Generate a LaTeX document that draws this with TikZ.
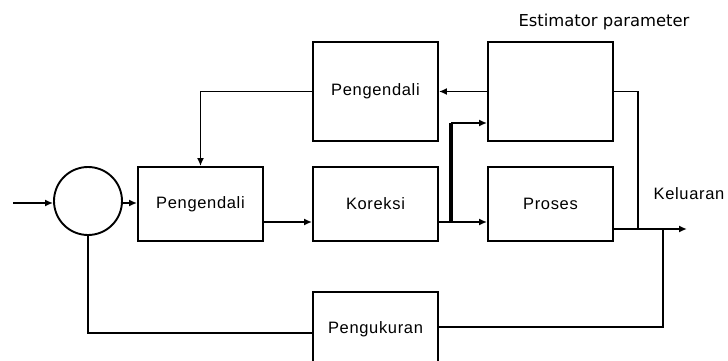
\documentclass[tikz,border=0pt]{standalone}
\usepackage{fontspec}
\setmainfont{Liberation Sans}
\newfontfamily\blokfont[LetterSpace=4]{Liberation Sans}
\newfontfamily\judulfont{DejaVu Sans}
\usetikzlibrary{arrows.meta,positioning}

\begin{document}
\begin{tikzpicture}[line join=miter,>={Latex[length=8pt,width=7pt]},x=1pt,y=-1pt,line width=1.6pt]
\tikzset{blok/.style={draw,line width=1.9pt,minimum width=125pt,inner sep=0pt,font=\blokfont\fontsize{16.5}{16.5}\selectfont}}
\useasboundingbox (0,0) rectangle (728,361);
% blok-blok
\node[draw,circle,line width=1.9pt,minimum size=68pt,inner sep=0pt] (sum) at (88,201) {};
\node[blok,minimum height=74pt] (ctrl) at (200.5,204) {Pengendali};
\node[blok,minimum height=74pt] (kor) at (375.5,204) {Koreksi};
\node[blok,minimum height=74pt] (pro) at (550.5,204) {Proses};
\node[blok,minimum height=99pt] (atas) at (375.5,91.5) {Pengendali};
\node[blok,minimum height=99pt] (est) at (550.5,91.5) {};
\node[blok,minimum height=80pt,text depth=8pt] (ukur) at (375.5,332) {Pengukuran};
\node[font=\judulfont\fontsize{16.4}{16.4}\selectfont] (judul) at (604,22) {Estimator parameter};
\node[font=\blokfont\fontsize{16.5}{16.5}\selectfont] (out) at (689,194) {Keluaran};
% titik bantu
\coordinate (in) at (13,203);
\coordinate (y) at (687,229);
\coordinate (cab) at (451,222);
% sambungan
\draw[->] (in) -- (sum.west |- in);
\draw[->] (sum.east |- in) -- (ctrl.west |- in);
\draw[->] ([yshift=-18pt]ctrl.east) -- ([yshift=-18pt]kor.west);
\draw[->] ([yshift=-18pt]kor.east) -- ([yshift=-18pt]pro.west);
\draw[line width=3.5pt] (cab) -- (cab |- 0,123);
\draw[->] (cab |- 0,123) -- (est.west |- 0,123);
\draw[->] (est.west) -- (atas.east);
\draw[->] (atas.west) -| (ctrl.north);
\draw[->] (pro.east |- y) -- (y);
\draw[line width=1.1pt] (est.east) -- (638,91.5) -- (638,229);
\draw (ukur.east |- 0,327) -| (663,229);
\draw (sum.south) |- (ukur.west |- 0,333);
\end{tikzpicture}
\end{document}
